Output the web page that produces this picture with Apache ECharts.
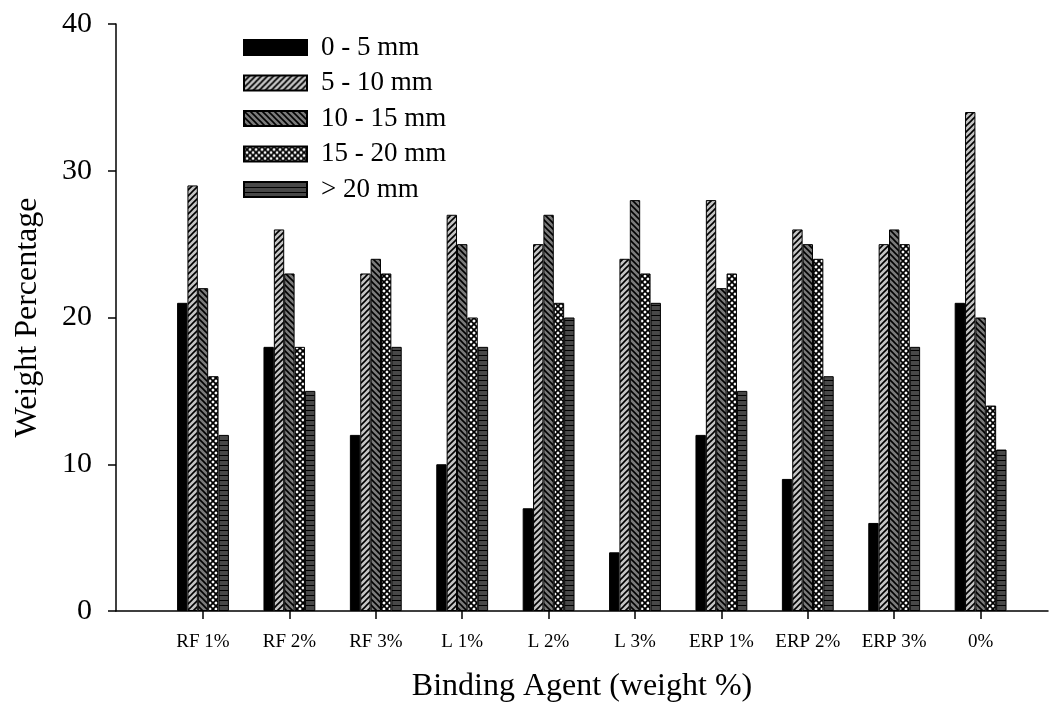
<!DOCTYPE html>
<html>
<head>
<meta charset="utf-8">
<script src="https://cdn.jsdelivr.net/npm/echarts@6/dist/echarts.min.js"></script>
<style>
  html, body { margin: 0; padding: 0; background: #fff; }
  #chart { width: 1056px; height: 704px; }
</style>
</head>
<body>
<div id="chart"></div>
<script>
// Binding agents on the category axis
const categories = ['RF 1%', 'RF 2%', 'RF 3%', 'L 1%', 'L 2%', 'L 3%', 'ERP 1%', 'ERP 2%', 'ERP 3%', '0%'];
// Size fractions (legend)
const seriesNames = ['0 - 5 mm', '5 - 10 mm', '10 - 15 mm', '15 - 20 mm', '> 20 mm'];
// Weight percentage per size fraction, one value per binding agent
const size0to5   = [21, 18, 12, 10, 7, 4, 12, 9, 6, 21];
const size5to10  = [29, 26, 23, 27, 25, 24, 28, 26, 25, 34];
const size10to15 = [22, 23, 24, 25, 27, 28, 22, 25, 26, 20];
const size15to20 = [16, 18, 23, 20, 21, 23, 23, 24, 25, 14];
const sizeOver20 = [12, 15, 18, 18, 20, 21, 15, 16, 18, 11];
const yTicks = [0, 10, 20, 30, 40];

const FONT = '"Liberation Serif", "Times New Roman", serif';

// Small repeating tiles used as bar fills
function tile(w, h, draw) {
  const c = document.createElement('canvas');
  c.width = w; c.height = h;
  const ctx = c.getContext('2d');
  draw(ctx, w, h);
  return { image: c, repeat: 'repeat' };
}
const fills = [
  '#000000',
  tile(6, 6, (g, w, h) => {           // light grey with "/" hatching
    g.fillStyle = '#c4c4c4'; g.fillRect(0, 0, w, h);
    g.strokeStyle = '#000'; g.lineWidth = 1.6;
    g.beginPath();
    g.moveTo(-1, h + 1); g.lineTo(w + 1, -1);
    g.moveTo(-1, 1); g.lineTo(1, -1);
    g.moveTo(w - 1, h + 1); g.lineTo(w + 1, h - 1);
    g.stroke();
  }),
  tile(6, 6, (g, w, h) => {           // mid grey with "\" hatching
    g.fillStyle = '#7a7a7a'; g.fillRect(0, 0, w, h);
    g.strokeStyle = '#000'; g.lineWidth = 1.6;
    g.beginPath();
    g.moveTo(-1, -1); g.lineTo(w + 1, h + 1);
    g.moveTo(w - 1, -1); g.lineTo(w + 1, 1);
    g.moveTo(-1, h - 1); g.lineTo(1, h + 1);
    g.stroke();
  }),
  tile(6, 6, (g, w, h) => {           // white with cross hatching
    g.fillStyle = '#ffffff'; g.fillRect(0, 0, w, h);
    g.strokeStyle = '#000'; g.lineWidth = 1.8;
    g.beginPath();
    g.moveTo(-1, -1); g.lineTo(w + 1, h + 1);
    g.moveTo(-1, h + 1); g.lineTo(w + 1, -1);
    g.stroke();
  }),
  tile(6, 5, (g, w, h) => {           // dark grey with horizontal lines
    g.fillStyle = '#484848'; g.fillRect(0, 0, w, h);
    g.fillStyle = '#000'; g.fillRect(0, 0, w, 1);
  })
];

const seriesData = [size0to5, size5to10, size10to15, size15to20, sizeOver20];

const chart = echarts.init(document.getElementById('chart'), null, { renderer: 'canvas' });
chart.setOption({
  backgroundColor: '#ffffff',
  animation: false,
  textStyle: { fontFamily: FONT, color: '#000' },
  legend: {
    orient: 'vertical',
    left: 243, top: 34,
    padding: 0,
    itemWidth: 63, itemHeight: 15, itemGap: 8.5,
    icon: 'rect',
    textStyle: { fontFamily: FONT, fontSize: 27, color: '#000', padding: [0, 0, 0, 9] },
    data: seriesNames
  },
  grid: [
    // frame with the axis lines
    { left: 116, right: 8, top: 24, bottom: 93, containLabel: false, outerBoundsMode: 'none' },
    // bar area
    { left: 159.8, right: 32.2, top: 24, bottom: 93, containLabel: false, outerBoundsMode: 'none' }
  ],
  xAxis: [
    {
      gridIndex: 0, type: 'value', min: 0, max: 1,
      axisLine: { show: true, lineStyle: { color: '#000', width: 1.5 } },
      axisTick: { show: false }, axisLabel: { show: false }, splitLine: { show: false },
      name: 'Binding Agent (weight %)', nameLocation: 'middle', nameGap: 60,
      nameTextStyle: { fontFamily: FONT, fontSize: 32, color: '#000' }
    },
    {
      gridIndex: 1, type: 'category', data: categories,
      axisLine: { show: false },
      axisTick: { show: true, alignWithLabel: true, length: 8, lineStyle: { color: '#000', width: 1.5 } },
      axisLabel: { fontFamily: FONT, fontSize: 19, color: '#000', margin: 22 },
      splitLine: { show: false }
    }
  ],
  yAxis: [
    {
      gridIndex: 0, type: 'value', min: 0, max: 40, interval: 10,
      axisLine: { show: true, lineStyle: { color: '#000', width: 1.5 } },
      axisTick: { show: true, inside: false, length: 8, lineStyle: { color: '#000', width: 1.5 } },
      axisLabel: {
        fontFamily: FONT, fontSize: 30, color: '#000', margin: 24,
        formatter: v => (yTicks.indexOf(v) >= 0 ? String(v) : '')
      },
      splitLine: { show: false },
      name: 'Weight Percentage', nameLocation: 'middle', nameGap: 72, nameRotate: 90,
      nameTextStyle: { fontFamily: FONT, fontSize: 32, color: '#000' }
    },
    {
      gridIndex: 1, type: 'value', min: 0, max: 40, interval: 10, show: false
    }
  ],
  series: seriesNames.map((name, i) => ({
    name: name,
    type: 'bar',
    xAxisIndex: 1, yAxisIndex: 1,
    data: seriesData[i],
    barGap: '0%',
    barCategoryGap: '40%',
    itemStyle: { color: fills[i], borderColor: '#000', borderWidth: 1 }
  }))
});
</script>
</body>
</html>
